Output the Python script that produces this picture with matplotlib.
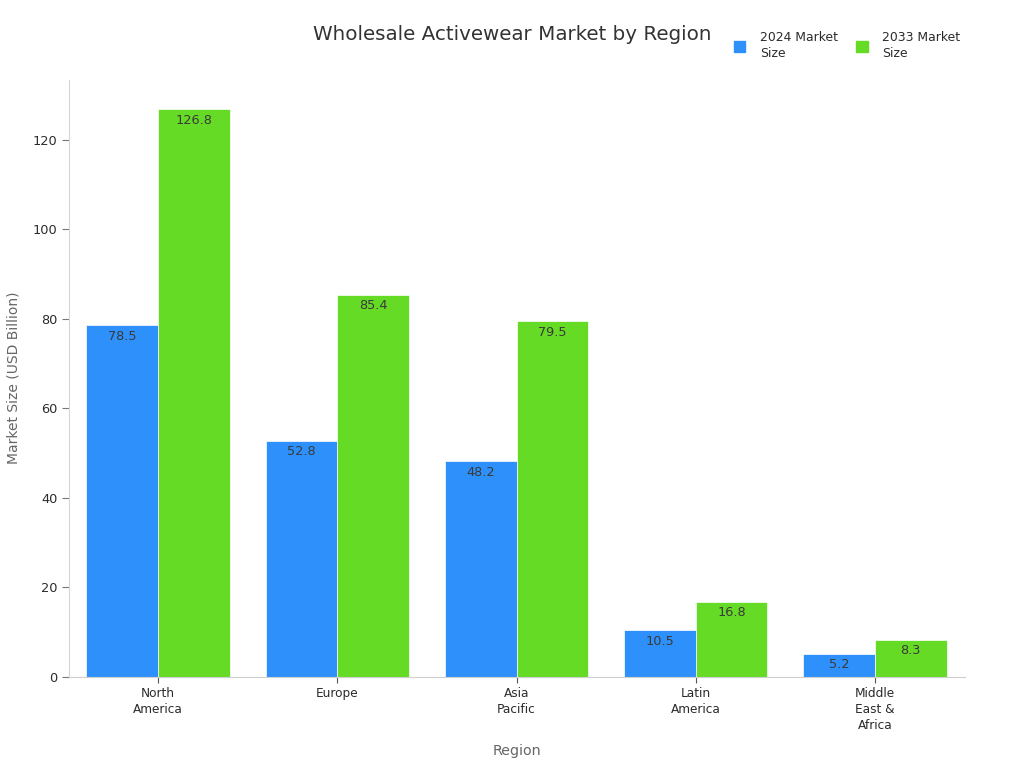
import matplotlib
matplotlib.use("Agg")
import matplotlib.pyplot as plt
import numpy as np
from matplotlib.patches import Patch

# datos
REGIONS = ["North\nAmerica", "Europe", "Asia\nPacific", "Latin\nAmerica", "Middle\nEast &\nAfrica"]
SIZE_2024 = [78.5, 52.8, 48.2, 10.5, 5.2]
SIZE_2033 = [126.8, 85.4, 79.5, 16.8, 8.3]
YTICKS = [0, 20, 40, 60, 80, 100, 120]

BLUE = "#2e90fa"
GREEN = "#66db26"
W, H = 1024, 768

plt.rcParams["font.family"] = "DejaVu Sans"

fig = plt.figure(figsize=(W / 100, H / 100), dpi=100)
ax = fig.add_axes([68.5 / W, 1 - 677 / H, (964.5 - 68.5) / W, (677 - 80) / H])

x = np.arange(len(REGIONS))
bw = 0.4
bars1 = ax.bar(x - bw / 2, SIZE_2024, bw, color=BLUE, edgecolor="white", linewidth=0.5)
bars2 = ax.bar(x + bw / 2, SIZE_2033, bw, color=GREEN, edgecolor="white", linewidth=0.5)

for bars, vals in ((bars1, SIZE_2024), (bars2, SIZE_2033)):
    for b, v in zip(bars, vals):
        ax.annotate(f"{v:.1f}", (b.get_x() + b.get_width() / 2, v), xytext=(0, -3.3),
                    textcoords="offset points", ha="center", va="top",
                    fontsize=9.3, color="#3a3a3a")

ax.set_xlim(-0.5, 4.5)
ax.set_ylim(0, 133.3)
ax.set_xticks(x, REGIONS)
ax.set_yticks(YTICKS)
ax.tick_params(axis="x", length=4, color="#555555", labelsize=8.7, labelcolor="#2b2b2b", pad=3)
ax.tick_params(axis="y", length=5, color="#777777", labelsize=9.3, labelcolor="#2b2b2b", pad=3)
for lab in ax.get_xticklabels():
    lab.set_linespacing(1.32)
for s in ("top", "right"):
    ax.spines[s].set_visible(False)
ax.spines["left"].set_color("#d5d5d5")
ax.spines["bottom"].set_color("#cfcfcf")

fig.text(13.5 / W, 1 - 378 / H, "Market Size (USD Billion)", fontsize=10, color="#666666",
         rotation=90, ha="center", va="center")
fig.text(516.5 / W, 1 - 751 / H, "Region", fontsize=10.3, color="#666666", ha="center", va="center")
fig.text(512 / W, 1 - 34 / H, "Wholesale Activewear Market by Region", fontsize=14.3,
         color="#333333", ha="center", va="center")

handles = [Patch(color=BLUE), Patch(color=GREEN)]
fig.legend(handles, ["2024 Market\nSize", "2033 Market\nSize"], ncol=2, frameon=False,
           loc="center", bbox_to_anchor=(847 / W, 1 - 45.5 / H), labelcolor="#2b2b2b",
           handlelength=0.95, handleheight=0.95, columnspacing=1.5, handletextpad=1.15,
           prop={"size": 8.9})
for t in fig.legends[0].get_texts():
    t.set_linespacing(1.3)

fig.savefig("out.png", dpi=100)
